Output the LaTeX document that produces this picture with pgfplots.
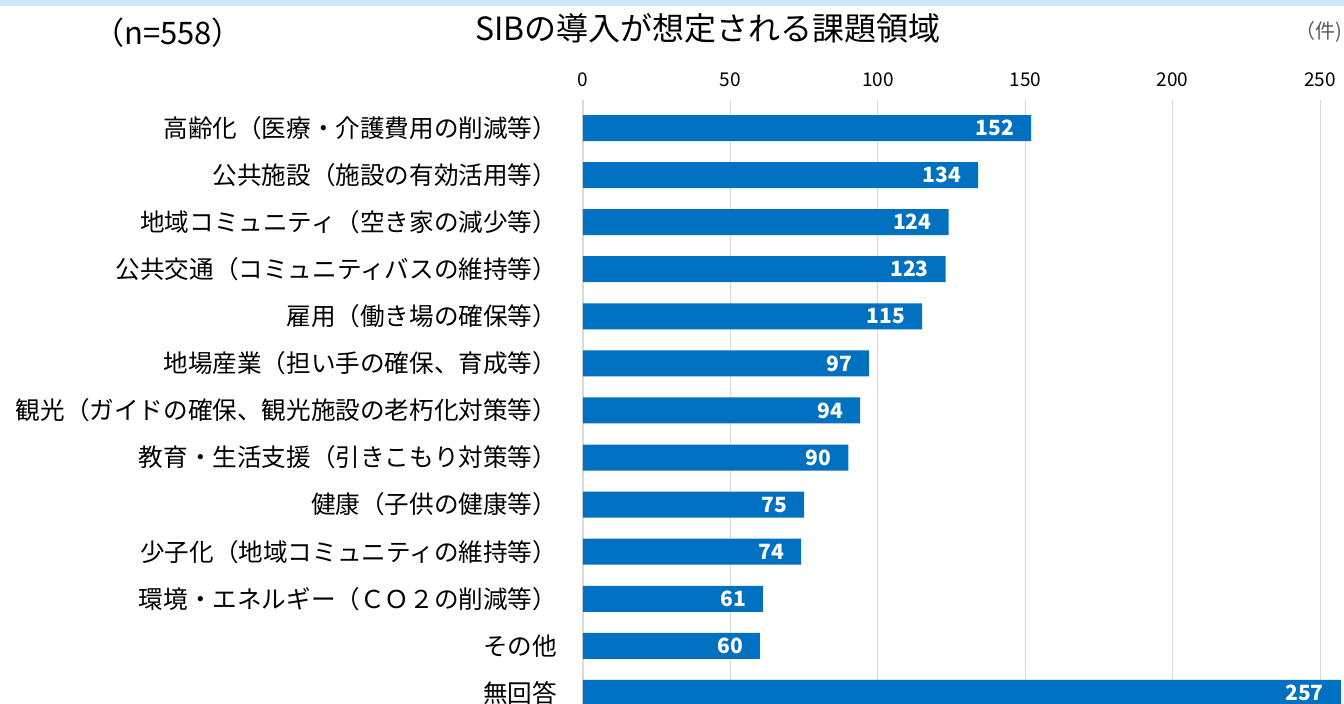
\documentclass[border=0pt]{standalone}
\usepackage{pgfplots}
\pgfplotsset{compat=1.18}
\usepackage{fontspec}
\setmainfont{Noto Sans CJK JP}
\definecolor{barblue}{HTML}{0070C0}
\definecolor{band}{HTML}{CCE8F8}
\definecolor{gridc}{HTML}{D9D9D9}
\definecolor{unitc}{HTML}{595959}
\begin{document}
\begin{tikzpicture}
\useasboundingbox (0,0) rectangle (672pt,352pt);
\clip (0,0) rectangle (672pt,352pt);
\fill[band] (0,349pt) rectangle (672pt,352pt);
\node[anchor=center, inner sep=0pt, font=\fontsize{16pt}{18pt}\selectfont] at (354pt,338pt) {SIBの導入が想定される課題領域};
\node[anchor=center, inner sep=0pt, font=\fontsize{15.5pt}{17pt}\selectfont] at (84pt,335.5pt) {（n=558）};
\node[anchor=east, inner sep=0pt, text=unitc, font=\fontsize{10pt}{12pt}\selectfont] at (671.5pt,336pt) {（件)};
\begin{axis}[
 at={(291.5pt,302pt)}, anchor=north west,
 scale only axis, width=380.5pt, height=302pt,
 xbar, bar width=13pt,
 xmin=0, xmax=258.1, ymin=-0.595, ymax=12.235,
 y dir=reverse,
 axis line style={draw=none},
 major tick style={draw=none},
 xtick={0,50,...,250},
 xticklabel pos=upper,
 xmajorgrids, grid style={gridc, line width=0.6pt},
 ytick={0,...,12},
 yticklabels={{高齢化（医療・介護費用の削減等）},{公共施設（施設の有効活用等）},{地域コミュニティ（空き家の減少等）},{公共交通（コミュニティバスの維持等）},{雇用（働き場の確保等）},{地場産業（担い手の確保、育成等）},{観光（ガイドの確保、観光施設の老朽化対策等）},{教育・生活支援（引きこもり対策等）},{健康（子供の健康等）},{少子化（地域コミュニティの維持等）},{環境・エネルギー（ＣＯ２の削減等）},{その他},{無回答}},
 yticklabel style={anchor=east, inner sep=0pt, xshift=-8.5pt, font=\fontsize{12.3pt}{14pt}\selectfont, text=black},
 xticklabel style={anchor=south, inner sep=0pt, yshift=6.5pt, font=\fontsize{9.5pt}{11pt}\selectfont},
 /pgf/number format/assume math mode=true,
 nodes near coords,
 nodes near coords style={anchor=east, xshift=-5pt, text=white, font=\bfseries\fontsize{10.5pt}{12pt}\selectfont},
]
\addplot[fill=barblue, draw=none] coordinates {
(152,0) (134,1) (124,2) (123,3) (115,4) (97,5) (94,6) (90,7) (75,8) (74,9) (61,10) (60,11) (257,12)};
\end{axis}
\end{tikzpicture}
\end{document}
